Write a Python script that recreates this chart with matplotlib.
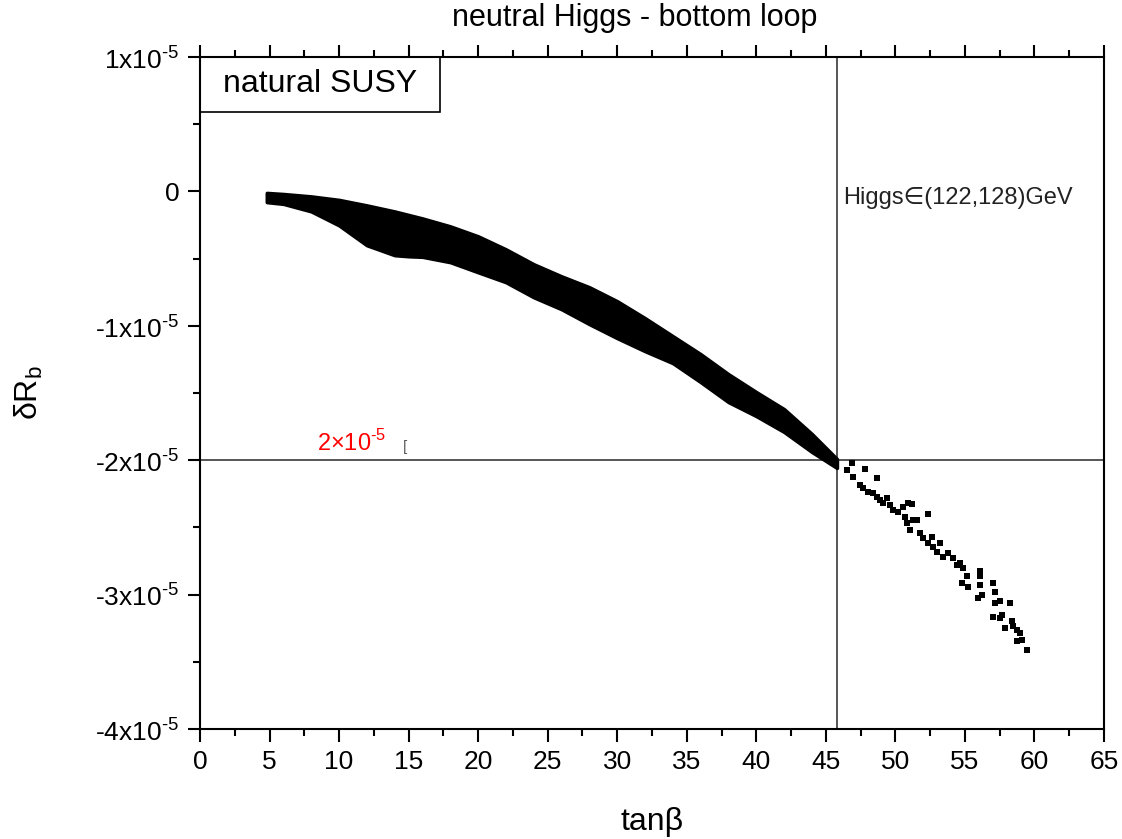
import matplotlib
matplotlib.use('Agg')
import matplotlib.pyplot as plt
from matplotlib.patches import Rectangle
from matplotlib.ticker import MultipleLocator, FixedLocator

plt.rcParams['font.family'] = ['Liberation Sans', 'DejaVu Sans']
plt.rcParams['mathtext.fontset'] = 'custom'
plt.rcParams['mathtext.rm'] = 'Liberation Sans'

# dense band of points: tan(beta) with upper/lower edge of delta R_b (units 1e-5)
band_tanb = [4.8, 6, 8, 10, 12, 14, 15, 16, 18, 20, 22, 24, 26, 28, 30,
             32, 34, 36, 38, 40, 42, 44, 45.8]
band_upper = [-0.011, -0.019, -0.037, -0.063, -0.104, -0.149, -0.175, -0.201,
              -0.260, -0.334, -0.431, -0.542, -0.632, -0.713, -0.817, -0.943,
              -1.077, -1.211, -1.360, -1.493, -1.620, -1.805, -1.991]
band_lower = [-0.080, -0.093, -0.149, -0.253, -0.401, -0.475, -0.483, -0.487,
              -0.527, -0.602, -0.676, -0.788, -0.877, -0.988, -1.092, -1.189,
              -1.278, -1.419, -1.568, -1.672, -1.790, -1.939, -2.058]

# sparse points in the tail
tail_tanb = [46.5, 46.86, 46.95, 47.81, 48.65, 47.45, 47.69, 48.05, 48.41, 48.65,
             48.89, 49.37, 49.13, 49.61, 49.85, 50.21, 50.57, 50.93, 51.17, 50.69,
             50.81, 51.05, 51.29, 51.53, 52.37, 51.77, 52.01, 52.37, 52.61, 52.73,
             53.21, 52.97, 53.45, 53.80, 54.16, 54.41, 54.64, 54.88, 55.13, 54.77,
             55.24, 56.08, 56.08, 56.08, 56.20, 55.96, 57.04, 57.16, 57.16, 57.52,
             58.24, 57.04, 57.52, 57.64, 58.36, 58.48, 57.88, 58.72, 58.96, 58.72,
             59.08, 59.44]
tail_drb = [-2.073, -2.019, -2.123, -2.068, -2.135, -2.184, -2.209, -2.234, -2.246, -2.271,
            -2.296, -2.283, -2.320, -2.333, -2.370, -2.383, -2.345, -2.320, -2.325, -2.420,
            -2.469, -2.519, -2.444, -2.444, -2.402, -2.543, -2.580, -2.618, -2.568, -2.643,
            -2.618, -2.680, -2.717, -2.692, -2.729, -2.779, -2.766, -2.803, -2.860, -2.910,
            -2.944, -2.828, -2.865, -2.927, -3.001, -3.026, -2.915, -2.977, -3.063, -3.051,
            -3.063, -3.163, -3.175, -3.150, -3.200, -3.237, -3.249, -3.262, -3.286, -3.348,
            -3.336, -3.410]

tanb_cut = 45.8
drb_cut = -2.0

yticks = [-4, -3, -2, -1, 0, 1]
ytick_labels = [r'-4x10$^{\mathregular{\text{-}5}}$', r'-3x10$^{\mathregular{\text{-}5}}$',
                r'-2x10$^{\mathregular{\text{-}5}}$', r'-1x10$^{\mathregular{\text{-}5}}$',
                '0', r'1x10$^{\mathregular{\text{-}5}}$']

fig = plt.figure(figsize=(11.22, 8.39), dpi=100)
ax = fig.add_axes([200/1122, 1 - 729/839, 904/1122, 672/839])

ax.fill_between(band_tanb, band_lower, band_upper, color='black', lw=2.5,
                edgecolor='black', zorder=3)
ax.scatter(tail_tanb, tail_drb, marker='s', s=18, color='black', linewidths=0,
           zorder=3)

ax.axvline(tanb_cut, color='#555555', lw=1.4, zorder=2)
ax.axhline(drb_cut, color='#555555', lw=1.4, zorder=2)

ax.set_xlim(0, 65)
ax.set_ylim(-4, 1)
ax.xaxis.set_major_locator(MultipleLocator(5))
ax.xaxis.set_minor_locator(MultipleLocator(2.5))
ax.yaxis.set_major_locator(FixedLocator(yticks))
ax.yaxis.set_minor_locator(MultipleLocator(0.5))
ax.set_yticklabels(ytick_labels)

ax.tick_params(which='both', direction='out', width=1.5, top=True, right=False,
               labelsize=19, pad=6)
ax.tick_params(which='major', length=9)
ax.tick_params(which='minor', length=5)
for sp in ax.spines.values():
    sp.set_linewidth(1.5)

ax.set_xlabel('tanβ', fontsize=23, labelpad=24)
ax.set_ylabel(r'δR$_\mathregular{b}$', fontsize=23, labelpad=36)

fig.text(635/1122, 1 - 18/839, 'neutral Higgs - bottom loop', fontsize=22,
         ha='center', va='center')

ax.add_patch(Rectangle((0, 1 - 55/672), 240/904, 55/672, transform=ax.transAxes,
                       fill=False, lw=1.2, edgecolor='black', zorder=4))
ax.text(120/904, 1 - 27/672, 'natural SUSY', transform=ax.transAxes,
        fontsize=23, ha='center', va='center')

ax.text(46.25, -0.05, 'Higgs∈(122,128)GeV', fontsize=17, ha='left', va='center',
        color='#222222')
ax.text(8.4, -1.87, r'2×10$^{\mathregular{\text{-}5}}$', fontsize=17, color='red',
        ha='left', va='center')
ax.text(14.6, -1.90, '[', fontsize=11, color='#555555', ha='left', va='center')

fig.savefig('out.png', dpi=100)
